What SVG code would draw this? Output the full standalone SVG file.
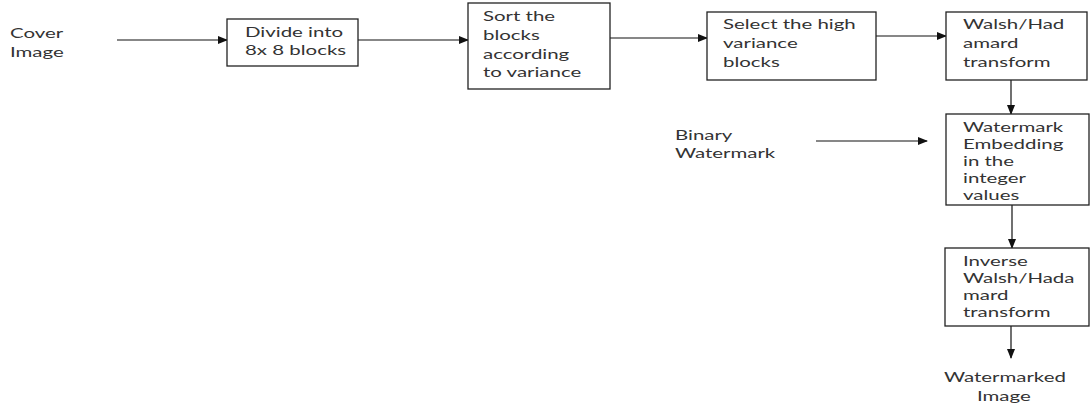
<svg xmlns="http://www.w3.org/2000/svg" width="1090" height="407" viewBox="0 0 1090 407">
<style>
.box{fill:#fff;stroke:#222;stroke-width:1.3}
.t{font-family:Lato,"Liberation Sans",sans-serif;font-size:14px;fill:#333}
.c{stroke:#111;stroke-width:1.2;fill:none;marker-end:url(#ah)}
</style>
<defs>
<marker id="ah" markerWidth="10" markerHeight="8" refX="9" refY="4" orient="auto" markerUnits="userSpaceOnUse">
<path d="M0,0 L10,4 L0,8 Z" fill="#111"/>
</marker>
</defs>
<rect width="1090" height="407" fill="#fff"/>
<g id="connectors">
<line class="c" x1="117" y1="40" x2="227" y2="40"/>
<line class="c" x1="358" y1="40" x2="468" y2="40"/>
<line class="c" x1="610" y1="38" x2="707" y2="38"/>
<line class="c" x1="876" y1="36" x2="946" y2="36"/>
<line class="c" x1="1011" y1="80" x2="1011" y2="114"/>
<line class="c" x1="816" y1="141" x2="927" y2="141"/>
<line class="c" x1="1012" y1="205" x2="1012" y2="248"/>
<line class="c" x1="1011" y1="326" x2="1011" y2="358"/>
</g>
<g id="cover">
<text class="t" transform="translate(10,38) scale(1.46,1)"><tspan x="0" y="0">Cover</tspan><tspan x="0" y="19">Image</tspan></text>
</g>
<g id="divide">
<rect class="box" x="227" y="19" width="131" height="47"/>
<text class="t" transform="translate(245,37) scale(1.46,1)"><tspan x="0" y="0">Divide into</tspan><tspan x="0" y="18">8x 8 blocks</tspan></text>
</g>
<g id="sort">
<rect class="box" x="468" y="3" width="142" height="86"/>
<text class="t" transform="translate(483,21) scale(1.46,1)"><tspan x="0" y="0">Sort the</tspan><tspan x="0" y="19">blocks</tspan><tspan x="0" y="38">according</tspan><tspan x="0" y="56">to variance</tspan></text>
</g>
<g id="select">
<rect class="box" x="707" y="12" width="169" height="68"/>
<text class="t" transform="translate(723,29) scale(1.46,1)"><tspan x="0" y="0">Select the high</tspan><tspan x="0" y="19">variance</tspan><tspan x="0" y="38">blocks</tspan></text>
</g>
<g id="walsh">
<rect class="box" x="946" y="12" width="141" height="68"/>
<text class="t" transform="translate(963,29) scale(1.46,1)"><tspan x="0" y="0">Walsh/Had</tspan><tspan x="0" y="19">amard</tspan><tspan x="0" y="38">transform</tspan></text>
</g>
<g id="binary">
<text class="t" transform="translate(675,140) scale(1.46,1)"><tspan x="0" y="0">Binary</tspan><tspan x="0" y="18">Watermark</tspan></text>
</g>
<g id="embed">
<rect class="box" x="946" y="114" width="143" height="91"/>
<text class="t" transform="translate(963,132) scale(1.46,1)"><tspan x="0" y="0">Watermark</tspan><tspan x="0" y="17">Embedding</tspan><tspan x="0" y="34.5">in the</tspan><tspan x="0" y="51.5">integer</tspan><tspan x="0" y="68">values</tspan></text>
</g>
<g id="inverse">
<rect class="box" x="945" y="248" width="144" height="78"/>
<text class="t" transform="translate(963,266) scale(1.46,1)"><tspan x="0" y="0">Inverse</tspan><tspan x="0" y="17">Walsh/Hada</tspan><tspan x="0" y="34">mard</tspan><tspan x="0" y="51">transform</tspan></text>
</g>
<g id="output">
<text class="t" transform="translate(944,382) scale(1.46,1)"><tspan x="0" y="0">Watermarked</tspan><tspan x="22.6" y="19">Image</tspan></text>
</g>
</svg>
